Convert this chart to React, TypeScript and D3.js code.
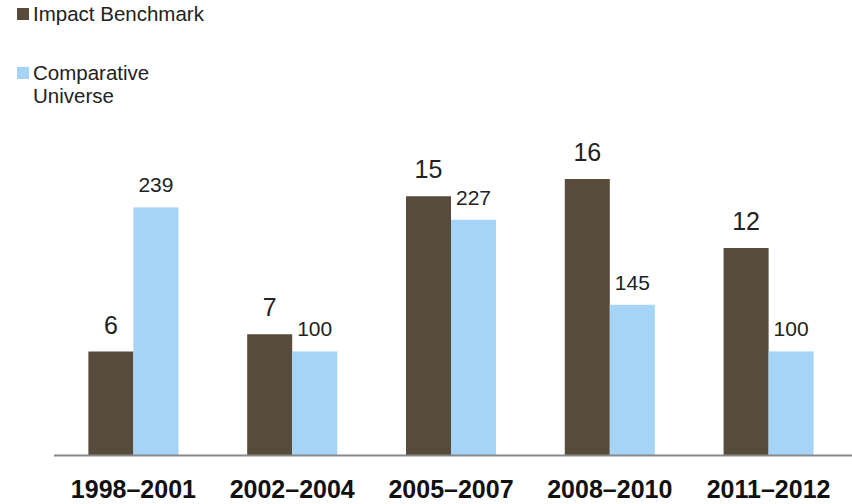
import React from "react";
import * as d3 from "d3";

const categories = ["1998–2001", "2002–2004", "2005–2007", "2008–2010", "2011–2012"];
const impactBenchmark = [6, 7, 15, 16, 12];
const comparativeUniverse = [239, 100, 227, 145, 100];
const seriesNames = ["Impact Benchmark", "Comparative Universe"];

const W = 852;
const H = 504;
const DARK = "#574b3b";
const LIGHT = "#a5d4f7";
const FONT = "'Helvetica Neue', Helvetica, Arial, 'Liberation Sans', sans-serif";

export default function App() {
  const baseY = 455;
  const x0 = d3.scaleBand<string>().domain(categories).range([54, 848]).paddingInner(0.433).paddingOuter(0.2165);
  const x1 = d3.scaleBand<string>().domain(["a", "b"]).range([0, x0.bandwidth()]);
  const yA = d3.scaleLinear().domain([0, 20]).range([baseY, baseY - 345]);
  const yB = d3.scaleLinear().domain([0, 333]).range([baseY, baseY - 345]);

  return (
    <svg width={W} height={H} style={{ position: "absolute", left: 0, top: 0, background: "#fff" }} fontFamily={FONT}>
      {/* legend */}
      <rect x={17} y={8} width={12} height={12} fill={DARK} />
      <text x={33} y={21} fontSize={20.5} fill="#222">{seriesNames[0]}</text>
      <rect x={17} y={67} width={12} height={12} fill={LIGHT} />
      <text x={33} y={80} fontSize={20.5} fill="#222">Comparative</text>
      <text x={33} y={103} fontSize={20.5} fill="#222">Universe</text>

      {categories.map((c, i) => {
        const gx = x0(c)!;
        const ax = gx + x1("a")!;
        const bx = gx + x1("b")!;
        const bw = x1.bandwidth();
        return (
          <g key={c}>
            <rect x={ax} y={yA(impactBenchmark[i])} width={bw} height={baseY - yA(impactBenchmark[i])} fill={DARK} />
            <rect x={bx} y={yB(comparativeUniverse[i])} width={bw} height={baseY - yB(comparativeUniverse[i])} fill={LIGHT} />
            <text x={ax + bw / 2} y={yA(impactBenchmark[i]) - 18} textAnchor="middle" fontSize={25} fill="#222">{impactBenchmark[i]}</text>
            <text x={bx + bw / 2} y={yB(comparativeUniverse[i]) - 15} textAnchor="middle" fontSize={21} fill="#222">{comparativeUniverse[i]}</text>
            <text x={gx + x0.bandwidth() / 2} y={498} textAnchor="middle" fontSize={25} fontWeight="bold" fill="#111">{c}</text>
          </g>
        );
      })}
      <line x1={54} x2={852} y1={baseY + 0.5} y2={baseY + 0.5} stroke="#888" strokeWidth={2} />
    </svg>
  );
}
